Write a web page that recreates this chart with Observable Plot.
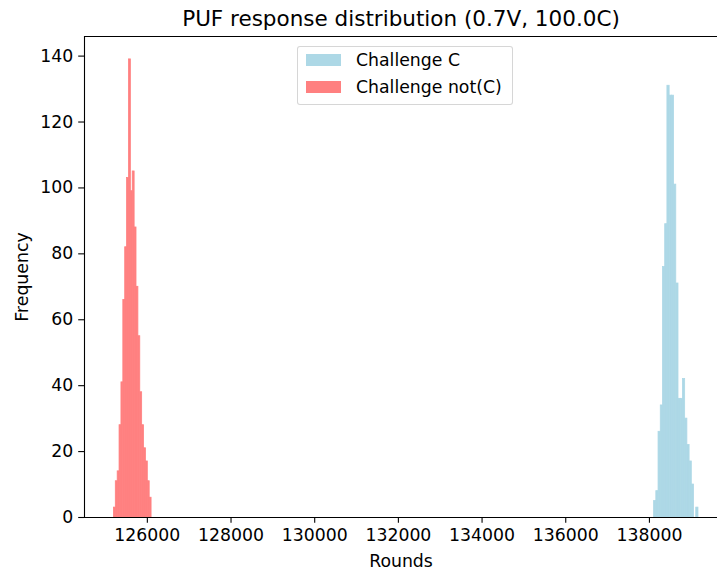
<!DOCTYPE html>
<html>
<head>
<meta charset="utf-8">
<script src="https://cdn.jsdelivr.net/npm/d3@7"></script>
<script src="https://cdn.jsdelivr.net/npm/@observablehq/plot@0.6"></script>
<style>
  html, body { margin: 0; padding: 0; background: #fff; overflow: hidden; }
  #wrap { position: relative; width: 717px; height: 576px; font-family: "DejaVu Sans", sans-serif; }
  #legend { position: absolute; left: 297px; top: 46px; width: 216px; height: 59px; box-sizing: border-box;
            border: 1px solid rgba(204,204,204,0.8); border-radius: 3px; background: rgba(255,255,255,0.8); }
  .item { position: absolute; left: 8px; height: 12px; }
  .patch { position: absolute; left: 0; top: 0; width: 35px; height: 12px; }
  .lbl { position: absolute; left: 50px; top: -4px; font-size: 17.3px; line-height: 20px; color: #000; white-space: nowrap; }
</style>
</head>
<body>
<div id="wrap">
  <div id="chart"></div>
  <div id="legend">
    <div class="item" style="top:7px"><div class="patch" style="background:#add8e6"></div><div class="lbl">Challenge C</div></div>
    <div class="item" style="top:34px"><div class="patch" style="background:#ff8080"></div><div class="lbl">Challenge not(C)</div></div>
  </div>
</div>
<script>
// Histogram data
const seriesNames = ["Challenge C", "Challenge not(C)"];
const seriesColors = ["#add8e6", "#ff8080"];

// Challenge C (blue): 20 bins
const blueStart = 138112;
const blueBinWidth = 53;
const blueCounts = [5, 8, 26, 34, 76, 89, 131, 128, 128, 101, 71, 36, 36, 42, 30, 22, 17, 10, 0, 3];

// Challenge not(C) (red): 20 bins
const redStart = 125201;
const redBinWidth = 45;
const redCounts = [3, 11, 14, 28, 41, 66, 82, 103, 139, 99, 105, 88, 70, 55, 38, 28, 21, 17, 11, 6];

const xTicks = [126000, 128000, 130000, 132000, 134000, 136000, 138000];
const yTicks = [0, 20, 40, 60, 80, 100, 120, 140];

const title = "PUF response distribution (0.7V, 100.0C)";
const xLabel = "Rounds";
const yLabel = "Frequency";

const xDomain = [124498, 139627];
const yDomain = [0, 145.95];

function bins(start, w, counts, name) {
  return counts.map((c, i) => ({x1: start + i * w, x2: start + (i + 1) * w, count: c, series: name}));
}
const blueBins = bins(blueStart, blueBinWidth, blueCounts, seriesNames[0]);
const redBins = bins(redStart, redBinWidth, redCounts, seriesNames[1]);

const plot = Plot.plot({
  width: 717,
  height: 576,
  marginLeft: 84,
  marginRight: 0,
  marginTop: 36,
  marginBottom: 59,
  style: {fontFamily: "DejaVu Sans, sans-serif", fontSize: "17.3px", color: "#000", background: "#fff", overflow: "visible"},
  x: {domain: xDomain},
  y: {domain: yDomain},
  marks: [
    Plot.rectY(blueBins, {x1: "x1", x2: "x2", y: "count", fill: seriesColors[0], stroke: seriesColors[0], strokeWidth: 0.8}),
    Plot.rectY(redBins, {x1: "x1", x2: "x2", y: "count", fill: seriesColors[1], stroke: seriesColors[1], strokeWidth: 0.8}),
    Plot.axisX({ticks: xTicks, tickFormat: d => String(d), tickSize: 5.8, tickPadding: 5.5, label: null, strokeWidth: 1.1}),
    Plot.axisY({ticks: yTicks, tickFormat: d => String(d), tickSize: 5.8, tickPadding: 5.5, label: null, strokeWidth: 1.1}),
    Plot.ruleY([yDomain[0]], {stroke: "#000", strokeWidth: 1.1}),
    Plot.ruleY([yDomain[1]], {stroke: "#000", strokeWidth: 1.1}),
    Plot.ruleX([xDomain[0]], {stroke: "#000", strokeWidth: 1.1}),
    Plot.text([title], {frameAnchor: "top", dy: -26, fontSize: 21.5, fill: "#000"}),
    Plot.text([xLabel], {frameAnchor: "bottom", dy: 49, fontSize: 17.3, fill: "#000"}),
    Plot.text([yLabel], {frameAnchor: "left", textAnchor: "middle", dx: -62, rotate: -90, fontSize: 17.3, fill: "#000"})
  ]
});
document.getElementById("chart").appendChild(plot);
</script>
</body>
</html>
